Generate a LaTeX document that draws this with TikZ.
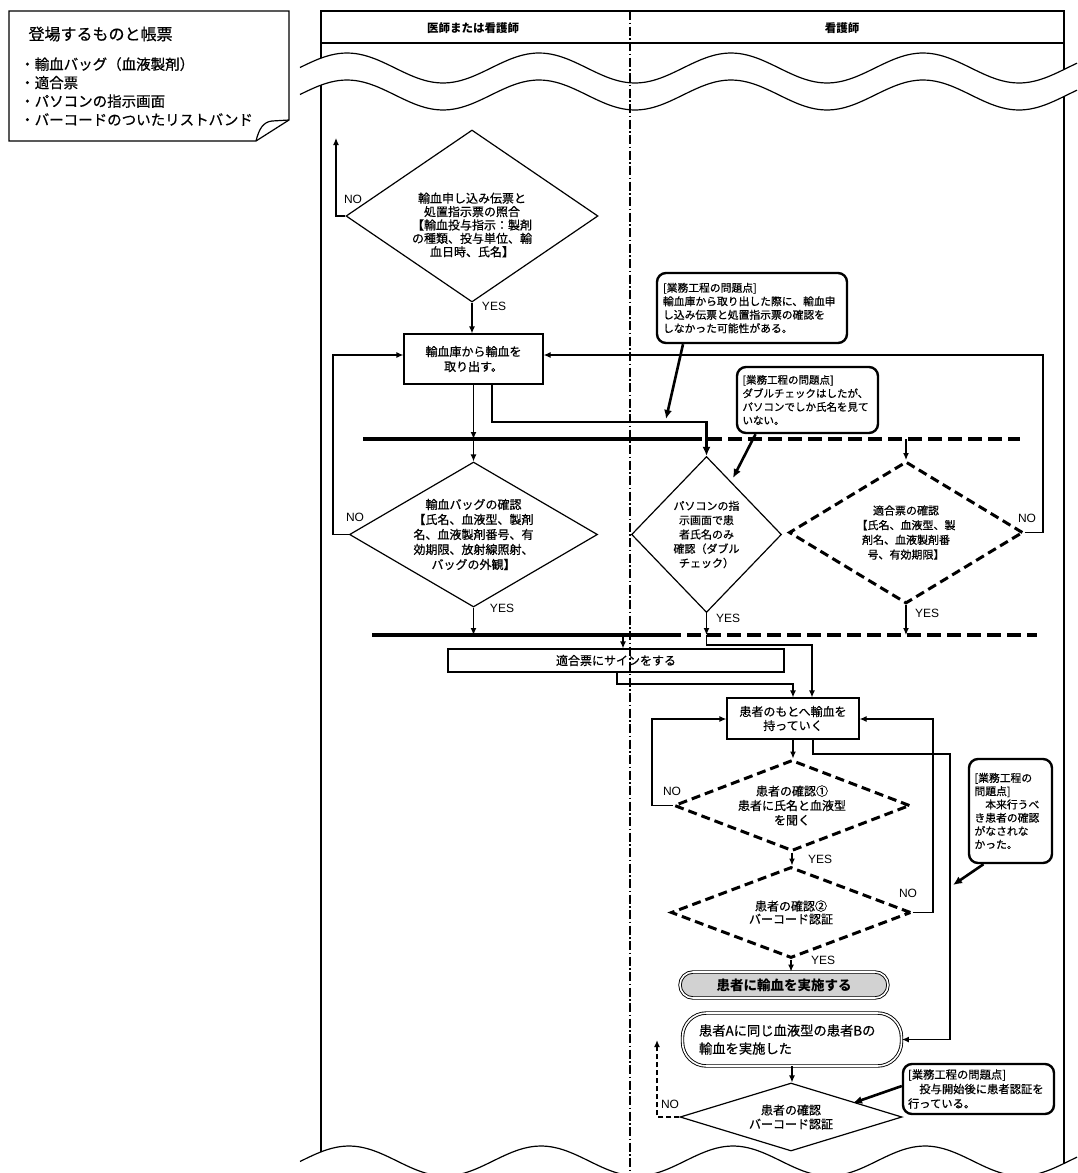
\documentclass[tikz,border=0pt]{standalone}
\usepackage{fontspec}
\setmainfont{Noto Sans CJK JP}[UprightFeatures={FakeBold=0.6}]
\newfontfamily\latinfont{Liberation Sans}
\usepackage{tikz}
\usetikzlibrary{arrows, arrows.meta}
\usetikzlibrary{positioning}
\usetikzlibrary{shapes.geometric}
\newcommand{\setfs}[2]{\fontsize{#1}{#2}\selectfont}
\tikzstyle{process} = [rectangle, draw=black, line width=1.2pt, fill=white, align=center, inner sep=0pt]
\tikzstyle{decision} = [diamond, draw=black, line width=1.2pt, fill=white, align=center, inner sep=0pt]
\tikzstyle{checkdecision} = [decision, line width=3pt, dash pattern=on 9pt off 5pt]
\tikzstyle{issue} = [rectangle, rounded corners=9pt, draw=black, line width=2.4pt, fill=white, align=left, inner sep=5pt, font=\setfs{10.8}{13.5}]
\tikzstyle{terminal} = [rectangle, draw=black, double, double distance=1.6pt, line width=0.9pt]
\tikzstyle{arrow} = [line width=1.2pt, -{Latex[length=7pt,width=6pt]}]
\tikzstyle{link} = [line width=1.2pt]
\tikzstyle{thickarrow} = [line width=2.6pt, -{Latex[length=9pt,width=8pt]}]
\tikzstyle{bar} = [line width=4.5pt]
\tikzstyle{yesno} = [font=\latinfont\setfs{12}{14}, inner sep=0pt]

\begin{document}
\begin{tikzpicture}[x=1pt, y=-1pt]
    \useasboundingbox (0,0) rectangle (1077,1173);
    % legend
    \draw[link] (9,11) -- (289,11) -- (289,120) -- (256,141) -- (9,141) -- cycle;
    \draw[link] (256,141) .. controls (259,129) and (263,122) .. (272,121) -- (289,120);
    \node(legendtitle)[anchor=west, font=\setfs{16}{18}] at (25,34) {登場するものと帳票};
    \node(legenditems)[anchor=west, align=left, inner sep=0pt, font=\setfs{14.5}{18.5}] at (20,91.5) {・輸血バッグ（血液製剤）\\・適合票\\・パソコンの指示画面\\・バーコードのついたリストバンド};

    % swimlanes
    \draw[link] (321,1173) -- (321,11) -- (1064,11) -- (1064,1173);
    \draw[link] (321,43) -- (1064,43);
    \node(lanedoc)[font=\bfseries\setfs{11.5}{13}] at (473,28) {医師または看護師};
    \node(lanenurse)[font=\bfseries\setfs{11.5}{13}] at (842,28) {看護師};
    \fill[white] plot[domain=300:1077, samples=100] (\x, {68+15*cos(1.875*(\x-635))}) -- plot[domain=1077:300, samples=100] (\x, {95+15*cos(1.875*(\x-635))}) -- cycle;
    \draw[link] plot[domain=300:1077, samples=100, smooth] (\x, {68+15*cos(1.875*(\x-635))});
    \draw[link] plot[domain=300:1077, samples=100, smooth] (\x, {95+15*cos(1.875*(\x-635))});
    \fill[white] plot[domain=300:1077, samples=100] (\x, {1161-15*cos(1.875*(\x-733))}) -- (1077,1173) -- (300,1173) -- cycle;
    \draw[link] plot[domain=300:1077, samples=100, smooth] (\x, {1161-15*cos(1.875*(\x-733))});

    % doctor or nurse
    \node(d1)[decision, minimum width=252pt, minimum height=172pt] at (472,216) {};
    \node(d1text)[align=center, font=\setfs{12}{13.4}] at (472,225) {輸血申し込み伝票と\\処置指示票の照合\\【輸血投与指示：製剤\\の種類、投与単位、輸\\血日時、氏名】};
    \node(take)[process, minimum width=139pt, minimum height=50pt, font=\setfs{12}{15}] at (473.5,359) {輸血庫から輸血を\\取り出す。};
    \node(d2)[decision, minimum width=248pt, minimum height=145pt, shape aspect=1.7, font=\setfs{12}{15}] at (473.5,534.5) {輸血バッグの確認\\【氏名、血液型、製剤\\名、血液製剤番号、有\\効期限、放射線照射、\\バッグの外観】};
    \node(sign)[process, minimum width=336pt, minimum height=23pt, font=\setfs{12}{14}] at (616,660.5) {適合票にサインをする};

    % nurse
    \node(d3)[decision, minimum width=150pt, minimum height=156pt, shape aspect=0.96, font=\setfs{11}{14.3}] at (706.5,534.5) {パソコンの指\\示画面で患\\者氏名のみ\\確認（ダブル\\チェック）};
    \node(d4)[checkdecision, minimum width=234pt, minimum height=142pt, shape aspect=1.65, font=\setfs{11}{14.7}] at (906,532.5) {適合票の確認\\【氏名、血液型、製\\剤名、血液製剤番\\号、有効期限】};
    \node(carry)[process, minimum width=132pt, minimum height=41pt, font=\setfs{12}{14}] at (793,718.5) {患者のもとへ輸血を\\持っていく};
    \node(d5)[checkdecision, minimum width=236pt, minimum height=91pt, shape aspect=2.6, font=\setfs{12}{14.5}] at (792,805.5) {患者の確認①\\患者に氏名と血液型\\を聞く};
    \node(d6)[checkdecision, minimum width=240pt, minimum height=91pt, shape aspect=2.6, font=\setfs{12}{13}] at (791,912.5) {患者の確認②\\バーコード認証};
    \node(do)[terminal, rounded corners=13pt, fill=gray!35, minimum width=208pt, minimum height=26pt, font=\bfseries\setfs{13.5}{15}] at (784,985) {患者に輸血を実施する};
    \node(res)[terminal, rounded corners=24pt, fill=white, minimum width=219pt, minimum height=53pt, text width=186pt, inner xsep=16.5pt, align=left, font=\setfs{13.3}{18}] at (792,1039.5) {患者Aに同じ血液型の患者Bの\\輸血を実施した};
    \node(d7)[decision, minimum width=222pt, minimum height=68pt, shape aspect=3.2, font=\setfs{12}{14}] at (791,1117) {患者の確認\\バーコード認証};

    % bars
    \coordinate(bar1a) at (363,439);
    \coordinate(bar1b) at (688,439);
    \coordinate(bar1c) at (1020,439);
    \coordinate(bar2a) at (372,635);
    \coordinate(bar2b) at (667,635);
    \coordinate(bar2c) at (1037,635);
    \draw[bar](bar1a) -- (bar1b);
    \draw[bar, dash pattern=on 14pt off 6pt](bar1b) -- (bar1c);
    \draw[bar](bar2a) -- (bar2b);
    \draw[bar, dash pattern=on 14pt off 6pt](bar2b) -- (bar2c);

    % flow
    \coordinate(no1) at (336,138);
    \coordinate(ret2) at (333,355);
    \coordinate(ret4) at (1043,355);
    \coordinate(j1) at (706.5,422);
    \coordinate(s1) at (623,635);
    \coordinate(j2) at (617,684);
    \coordinate(j3) at (812,645);
    \coordinate(j4) at (813,754);
    \coordinate(j5) at (950,754);
    \coordinate(ret5) at (652,719);
    \coordinate(ret6) at (933,719);
    \coordinate(no7) at (657,1040);
    \draw[arrow](d1.west) -| (no1);
    \draw[arrow](d1.south) -- (d1.south |- take.north);
    \draw[arrow](take.south) -- (take.south |- bar1a);
    \draw[arrow](take.south |- bar1a) -- (d2.north);
    \draw[thickarrow]([xshift=18.5pt]take.south) |- (j1) -- (d3.north);
    \draw[arrow](d4.north |- bar1a) -- (d4.north);
    \draw[arrow](d2.west) -| (ret2) -- (ret2 -| take.west);
    \draw[arrow](d4.east) -| (ret4) -- (ret4 -| take.east);
    \draw[arrow](d2.south) -- (d2.south |- bar2a);
    \draw[arrow](d3.south) -- (d3.south |- bar2a);
    \draw[arrow](d4.south) -- (d4.south |- bar2a);
    \draw[arrow](s1) -- (s1 |- sign.north);
    \draw[arrow](j2 |- sign.south) -- (j2) -| (carry.north);
    \draw[arrow](d3.south |- bar2a) |- (j3) -- (j3 |- carry.north);
    \draw[arrow](carry.south) -- (carry.south |- d5.north);
    \draw[arrow](d5.south) -- (d5.south |- d6.north);
    \draw[arrow](d6.south) -- (d6.south |- do.north);
    \draw[arrow](j4 |- carry.south) -- (j4) -- (j5) |- (res.east);
    \draw[arrow](d5.west) -| (ret5) -- (ret5 -| carry.west);
    \draw[arrow](d6.east) -| (ret6) -- (ret6 -| carry.east);
    \draw[arrow](res.south) -- (res.south |- d7.north);
    \draw[arrow, line width=2pt, dash pattern=on 5pt off 3pt](d7.west) -| (no7);

    % labels
    \node(no1l)[yesno] at (353,199) {NO};
    \node(yes1l)[yesno] at (494,306) {YES};
    \node(no2l)[yesno] at (355,517) {NO};
    \node(yes2l)[yesno] at (502,608) {YES};
    \node(yes3l)[yesno] at (728,618) {YES};
    \node(no4l)[yesno] at (1027,518) {NO};
    \node(yes4l)[yesno] at (927,613) {YES};
    \node(no5l)[yesno] at (672,791) {NO};
    \node(yes5l)[yesno] at (820,859) {YES};
    \node(no6l)[yesno] at (908,893) {NO};
    \node(yes6l)[yesno] at (823,960) {YES};
    \node(no7l)[yesno] at (670,1104) {NO};

    % problems
    \node(c1)[issue, minimum width=190pt, minimum height=70pt, text width=178pt] at (752,308) {{[}業務工程の問題点{]}\\輸血庫から取り出した際に、輸血申\\し込み伝票と処置指示票の確認を\\しなかった可能性がある。};
    \node(c2)[issue, minimum width=141pt, minimum height=66pt, text width=130pt, font=\setfs{10.5}{13.5}] at (807.5,400) {{[}業務工程の問題点{]}\\ダブルチェックはしたが、\\パソコンでしか氏名を見て\\いない。};
    \node(c3)[issue, minimum width=83pt, minimum height=104pt, text width=72pt, inner sep=4pt, font=\setfs{10.8}{13.3}] at (1010.5,811) {{[}業務工程の\\問題点{]}\\　本来行うべ\\き患者の確認\\がなされな\\かった。};
    \node(c4)[issue, minimum width=151pt, minimum height=50pt, text width=141pt, font=\setfs{11.3}{14.5}] at (978.5,1089) {{[}業務工程の問題点{]}\\　投与開始後に患者認証を\\行っている。};
    \coordinate(p1) at (666,419);
    \coordinate(p2) at (733,478);
    \coordinate(p3) at (953,885);
    \coordinate(p4) at (853,1103);
    \draw[thickarrow]([xshift=-69pt]c1.south) -- (p1);
    \draw[thickarrow]([xshift=-52pt]c2.south) -- (p2);
    \draw[thickarrow]([xshift=-27pt]c3.south) -- (p3);
    \draw[thickarrow]([yshift=3pt]c4.west) -- (p4);

    % lane divider
    \draw[link, dash pattern=on 9pt off 2.5pt on 1.5pt off 2.5pt] (630,11) -- (630,1173);
\end{tikzpicture}
\end{document}
